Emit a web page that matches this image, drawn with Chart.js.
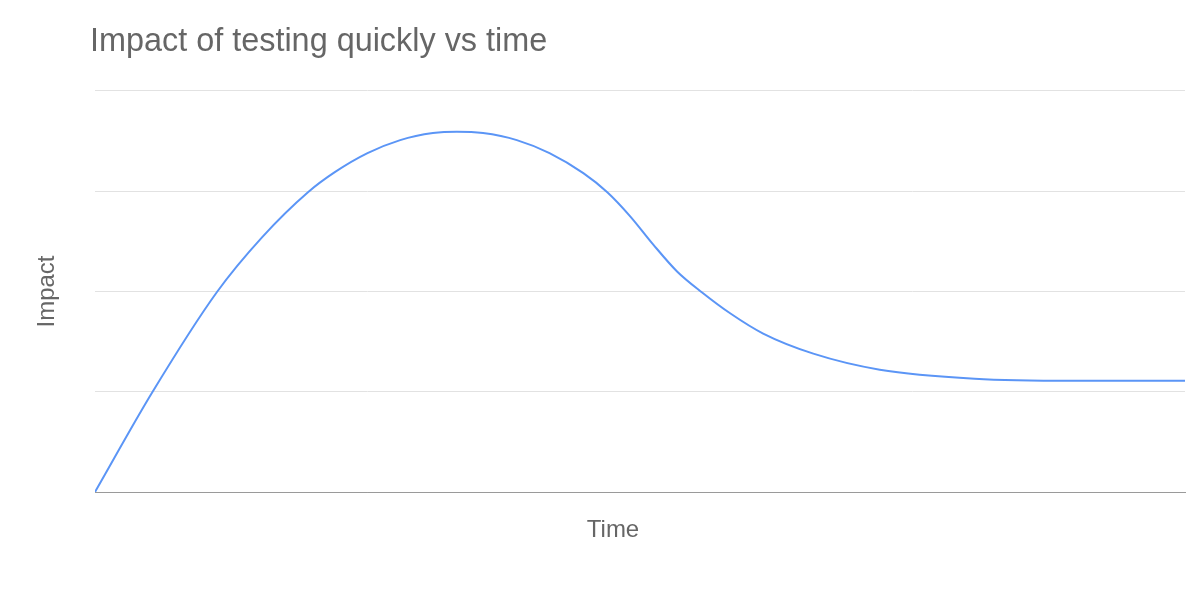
<!DOCTYPE html>
<html>
<head>
<meta charset="utf-8">
<script src="https://cdn.jsdelivr.net/npm/chart.js@4/dist/chart.umd.min.js"></script>
<style>
  html, body { margin: 0; padding: 0; background: #ffffff; }
  #wrap { width: 1200px; height: 600px; }
</style>
</head>
<body>
<div id="wrap"><canvas id="c" width="1200" height="600"></canvas></div>
<script>
const chartTitle = "Impact of testing quickly vs time";
const xAxisTitle = "Time";
const yAxisTitle = "Impact";
const timeValues = [0, 5.23, 11.19, 15.32, 19.54, 22, 25, 28, 31, 33.2, 35.6, 38.7, 41.7, 44.8, 47, 49.1, 51.2, 53.4, 55.7, 58.3, 61.3, 65.9, 72, 80.7, 89.8, 100];
const impactValues = [0, 0.99, 1.995, 2.54, 2.99, 3.19, 3.38, 3.51, 3.58, 3.594, 3.58, 3.51, 3.38, 3.18, 2.99, 2.75, 2.47, 2.2, 1.99, 1.78, 1.58, 1.38, 1.22, 1.13, 1.11, 1.11];
const yTicks = [0, 1, 2, 3, 4];

const points = timeValues.map((t, i) => ({ x: t, y: impactValues[i] }));
const FONT = "'Liberation Sans', Arial, Helvetica, sans-serif";
const TEXT = '#666666';

const titleShift = {
  id: 'titleShift',
  afterLayout(chart) {
    if (chart.titleBlock) chart.titleBlock.left = chart.chartArea.left - 5;
  }
};

const xTitlePlugin = {
  id: 'xTitlePlugin',
  afterDraw(chart) {
    const { ctx, chartArea } = chart;
    ctx.save();
    ctx.fillStyle = TEXT;
    ctx.font = "24px " + FONT;
    ctx.textAlign = 'center';
    ctx.textBaseline = 'middle';
    ctx.fillText(xAxisTitle, (chartArea.left + chartArea.right) / 2 - 27, chartArea.bottom + 38);
    ctx.restore();
  }
};

new Chart(document.getElementById('c'), {
  type: 'line',
  data: {
    datasets: [{
      data: points,
      borderColor: '#5b95f6',
      borderWidth: 2,
      pointRadius: 0,
      pointHoverRadius: 0,
      fill: false,
      cubicInterpolationMode: 'monotone'
    }]
  },
  options: {
    responsive: false,
    devicePixelRatio: 1,
    animation: false,
    layout: { padding: { left: 0, right: 15, top: 0, bottom: 108 } },
    plugins: {
      legend: { display: false },
      tooltip: { enabled: false },
      title: {
        display: true,
        text: chartTitle,
        align: 'start',
        fullSize: false,
        color: TEXT,
        font: { family: FONT, size: 32.4, weight: 'normal', lineHeight: 1.2 },
        padding: { top: 23, bottom: 29.1 }
      }
    },
    scales: {
      x: {
        type: 'linear',
        min: timeValues[0],
        max: timeValues[timeValues.length - 1],
        grid: { display: false, drawTicks: false },
        border: { display: true, color: '#9a9a9a', width: 1 },
        ticks: { display: false },
        title: { display: false, text: xAxisTitle }
      },
      y: {
        type: 'linear',
        min: yTicks[0],
        max: yTicks[yTicks.length - 1],
        afterBuildTicks(scale) { scale.ticks = yTicks.map(v => ({ value: v })); },
        grid: {
          drawTicks: false,
          color: ctx => (ctx.tick && ctx.tick.value === 0) ? '#9a9a9a' : '#e2e2e2',
          lineWidth: 1
        },
        border: { display: false },
        ticks: { display: false },
        title: {
          display: true,
          text: yAxisTitle,
          color: TEXT,
          font: { family: FONT, size: 24, weight: 'normal', lineHeight: 1.2 },
          padding: { top: 33, bottom: 33.2 }
        },
        afterFit(scale) { scale.width = 95; }
      }
    }
  },
  plugins: [titleShift, xTitlePlugin]
});
</script>
</body>
</html>
